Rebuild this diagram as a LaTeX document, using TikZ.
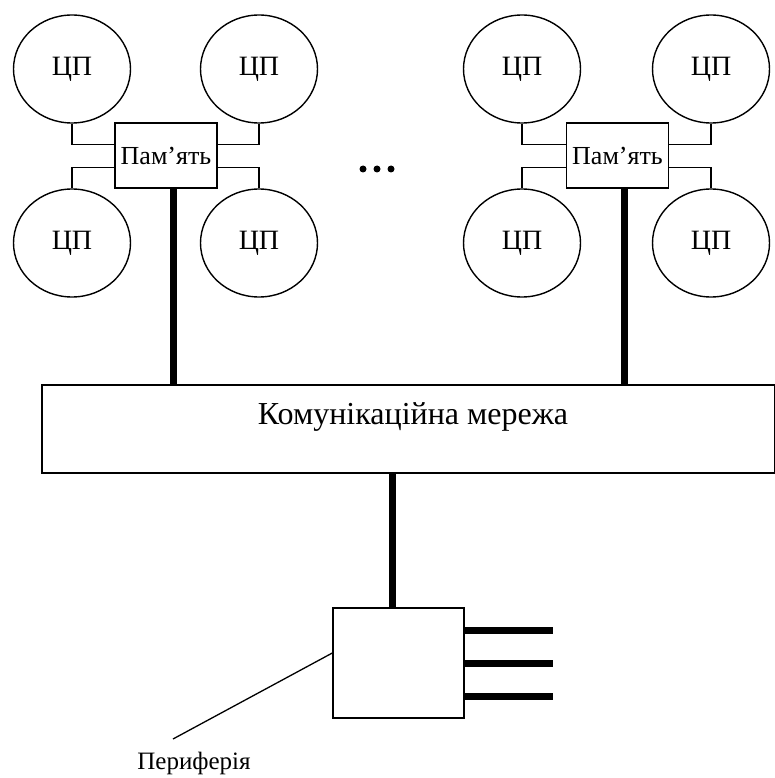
\documentclass[tikz,border=0pt]{standalone}
\usepackage{fontspec}
\setmainfont{Liberation Serif}
\usetikzlibrary{shapes.geometric}
\tikzset{
  cpu/.style={draw,line width=1.4pt,ellipse,minimum width=117pt,minimum height=108pt,inner sep=0pt,font=\fontsize{28}{30}\selectfont},
  mem/.style={draw,line width=1.4pt,rectangle,minimum width=102pt,minimum height=65pt,inner sep=0pt,font=\fontsize{26}{28}\selectfont},
  link/.style={draw,line width=1.3pt},
  bus/.style={line width=7pt},
}
\begin{document}
\begin{tikzpicture}[x=1pt,y=-1pt]
\useasboundingbox (0,0) rectangle (775,778);
% first group
\node[cpu] (c1) at (72,69) {ЦП};
\node[cpu] (c2) at (259,69) {ЦП};
\node[cpu] (c3) at (72,243) {ЦП};
\node[cpu] (c4) at (259,243) {ЦП};
\node[mem] (m1) at (166,155.5) {Пам’ять};
\draw[link] (c1.south) |- ([yshift=-22pt]m1.north west);
\draw[link] (c2.south) |- ([yshift=-22pt]m1.north east);
\draw[link] (c3.north) |- ([yshift=21pt]m1.south west);
\draw[link] (c4.north) |- ([yshift=21pt]m1.south east);
% second group
\node[cpu] (c5) at (522,69) {ЦП};
\node[cpu] (c6) at (711,69) {ЦП};
\node[cpu] (c7) at (522,243) {ЦП};
\node[cpu] (c8) at (711,243) {ЦП};
\node[mem] (m2) at (617.5,155.5) {Пам’ять};
\draw[link] (c5.south) |- ([yshift=-22pt]m2.north west);
\draw[link] (c6.south) |- ([yshift=-22pt]m2.north east);
\draw[link] (c7.north) |- ([yshift=21pt]m2.south west);
\draw[link] (c8.north) |- ([yshift=21pt]m2.south east);
\foreach \x in {363,377,391}
  \fill (\x,169) circle (3.5pt);
% network
\node[draw,line width=1.4pt,minimum width=733pt,minimum height=88pt] (net) at (408.5,429) {};
\node[font=\fontsize{32}{34}\selectfont] (netlbl) at (413,417) {Комунікаційна мережа};
\draw[bus] ([xshift=7pt]m1.south) -- ([xshift=7pt]m1.south |- net.north);
\draw[bus] ([xshift=6.5pt]m2.south) -- ([xshift=6.5pt]m2.south |- net.north);
% periphery
\node[draw,line width=1.4pt,minimum width=131pt,minimum height=110pt] (per) at (398.5,663) {};
\draw[bus] ([xshift=-6pt]per.north) -- ([xshift=-6pt]per.north |- net.south);
\foreach \dy in {33,0,-33}
  \draw[bus] ([yshift=\dy pt]per.east) -- ++(88,0);
\coordinate (lead) at (173,739);
\draw[line width=1.3pt] ([yshift=10pt]per.west) -- (lead);
\node[font=\fontsize{25}{27}\selectfont] (perlbl) at (194,763) {Периферія};
\end{tikzpicture}
\end{document}
